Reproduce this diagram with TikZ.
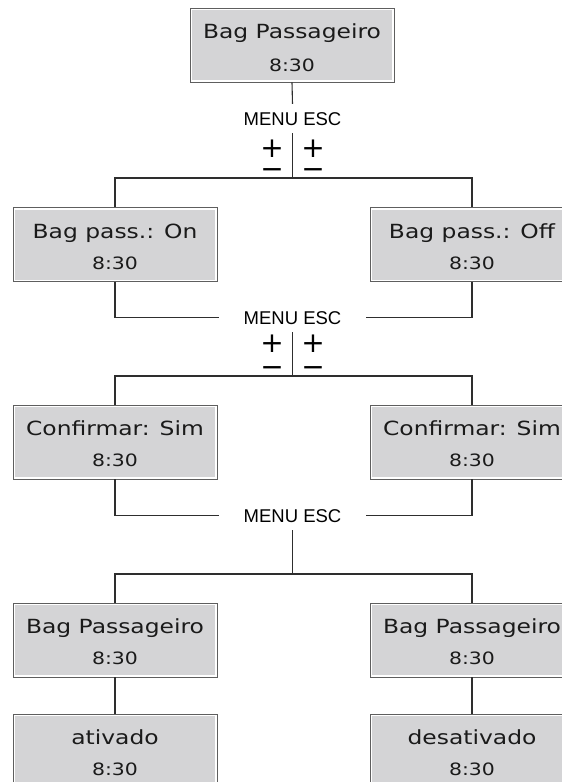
\documentclass[tikz,border=0pt]{standalone}
\usepackage{fontspec}
\setmainfont{Liberation Sans}
\newfontfamily\lcdfont[FakeStretch=1.2]{DejaVu Sans}
\newfontfamily\symfont{DejaVu Sans}
\definecolor{boxgray}{HTML}{D4D4D6}
\definecolor{boxedge}{HTML}{5E5E5E}
\definecolor{txt}{HTML}{1A1A1A}
\definecolor{lineclr}{HTML}{2E2E2E}
\begin{document}
\begin{tikzpicture}[x=1pt,y=-1pt,
  lcdbox/.style={rectangle, minimum width=204pt, minimum height=74pt, inner sep=0pt,
    fill=white, draw=boxedge, line width=0.9pt,
    path picture={\fill[boxgray] ([shift={(2pt,-2pt)}]path picture bounding box.north west)
      rectangle ([shift={(-2pt,2pt)}]path picture bounding box.south east);}},
  ttl/.style={anchor=base, inner sep=0pt, text=txt, font=\lcdfont\fontsize{19.5}{20}\selectfont},
  tm/.style={anchor=base, inner sep=0pt, text=txt, font=\lcdfont\fontsize{17}{17}\selectfont},
  keylbl/.style={anchor=base, inner xsep=24pt, inner ysep=8pt, text=black, font=\fontsize{18.5}{18.5}\selectfont},
  pm/.style={anchor=north, inner sep=0pt, text=black, font=\symfont\fontsize{28}{28}\selectfont},
  conn/.style={draw=lineclr, line width=1.1pt}]
\useasboundingbox (0,0) rectangle (562,782);
\clip (0,0) rectangle (562,782);
% boxes
\node[lcdbox] (b0) at (292,45) {};
\node[lcdbox] (L1) at (115,244.5) {};
\node[lcdbox] (R1) at (472,244.5) {};
\node[lcdbox] (L2) at (115,442) {};
\node[lcdbox] (R2) at (472,442) {};
\node[lcdbox] (L3) at (115,640) {};
\node[lcdbox] (R3) at (472,640) {};
\node[lcdbox] (L4) at (115,751) {};
\node[lcdbox] (R4) at (472,751) {};
% texts
\node[ttl] (b0t) at ([yshift=-31pt]b0.north) {Bag Passageiro};
\node[tm]  (b0h) at ([yshift=-64pt]b0.north) {8:30};
\node[ttl] (L1t) at ([yshift=-31pt]L1.north) {Bag pass.: On};
\node[tm]  (L1h) at ([yshift=-62pt]L1.north) {8:30};
\node[ttl] (R1t) at ([yshift=-31pt]R1.north) {Bag pass.: Off};
\node[tm]  (R1h) at ([yshift=-62pt]R1.north) {8:30};
\node[ttl] (L2t) at ([yshift=-31pt]L2.north) {Confirmar: Sim};
\node[tm]  (L2h) at ([yshift=-62pt]L2.north) {8:30};
\node[ttl] (R2t) at ([yshift=-31pt]R2.north) {Confirmar: Sim};
\node[tm]  (R2h) at ([yshift=-62pt]R2.north) {8:30};
\node[ttl] (L3t) at ([yshift=-31pt]L3.north) {Bag Passageiro};
\node[tm]  (L3h) at ([yshift=-62pt]L3.north) {8:30};
\node[ttl] (R3t) at ([yshift=-31pt]R3.north) {Bag Passageiro};
\node[tm]  (R3h) at ([yshift=-62pt]R3.north) {8:30};
\node[ttl] (L4t) at ([yshift=-31pt]L4.north) {ativado};
\node[tm]  (L4h) at ([yshift=-62pt]L4.north) {8:30};
\node[ttl] (R4t) at ([yshift=-31pt]R4.north) {desativado};
\node[tm]  (R4h) at ([yshift=-62pt]R4.north) {8:30};
% key labels
\node[keylbl] (m1) at (292.5,125) {MENU ESC};
\node[keylbl] (m2) at (292.5,324) {MENU ESC};
\node[keylbl] (m3) at (292.5,522) {MENU ESC};
% plus / minus
\node[pm] (p1l) at (272,140) {+};
\node[pm] (p1r) at (313,140) {+};
\node[pm] (n1l) at (272,168) {−};
\node[pm] (n1r) at (313,168) {−};
\node[pm] (p2l) at (272,335) {+};
\node[pm] (p2r) at (313,335) {+};
\node[pm] (n2l) at (272,366) {−};
\node[pm] (n2r) at (313,366) {−};
% junctions
\coordinate (j1) at (292.5,178);
\coordinate (j2) at (292.5,376);
\coordinate (j3) at (292.5,574);
% connectors
\draw[conn] (b0.south) -- (m1.north);
\draw[conn] (m1.south) -- (j1);
\draw[conn] (L1.north) |- (j1) -| (R1.north);
\draw[conn] (L1.south) |- (m2.west);
\draw[conn] (R1.south) |- (m2.east);
\draw[conn] (m2.south) -- (j2);
\draw[conn] (L2.north) |- (j2) -| (R2.north);
\draw[conn] (L2.south) |- (m3.west);
\draw[conn] (R2.south) |- (m3.east);
\draw[conn] (m3.south) -- (j3);
\draw[conn] (L3.north) |- (j3) -| (R3.north);
\draw[conn] (L3.south) -- (L4.north);
\draw[conn] (R3.south) -- (R4.north);
\end{tikzpicture}
\end{document}
